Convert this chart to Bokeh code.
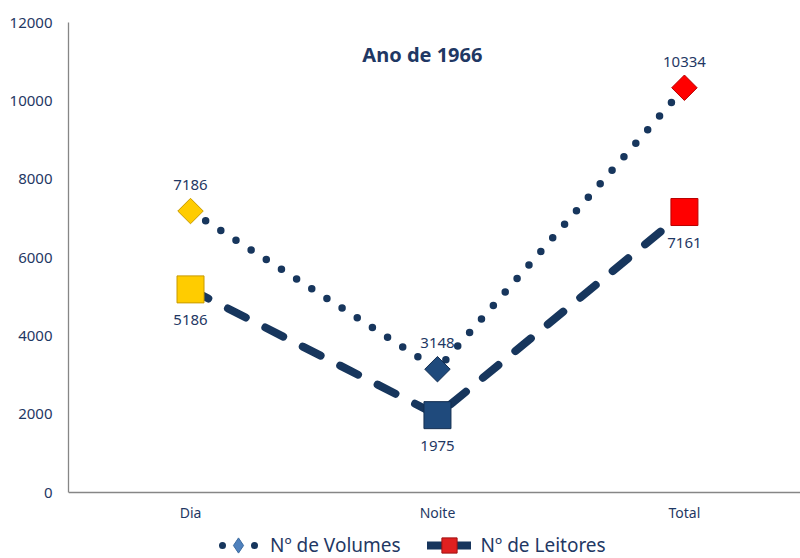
import math
from bokeh.plotting import figure
from bokeh.models import FixedTicker, Legend, LegendItem, Label, ColumnDataSource
from bokeh.embed import file_html
from bokeh.resources import INLINE

categories = ["Dia", "Noite", "Total"]
volumes = [7186, 3148, 10334]
leitores = [5186, 1975, 7161]
y_ticks = [0, 2000, 4000, 6000, 8000, 10000, 12000]
point_colors = ["#FFCC00", "#1F4A7C", "#FF0000"]
point_edges = ["#C89A00", "#142F52", "#B80000"]
title_text = "Ano de 1966"
series_names = ["N\u00ba de Volumes", "N\u00ba de Leitores"]

NAVY = "#17365D"
TEXT = "#1F3864"
FONT = "Noto Sans"

xs = list(range(len(categories)))
src = ColumnDataSource(dict(
    x=xs,
    vol=volumes,
    lei=leitores,
    vol_txt=[str(v) for v in volumes],
    lei_txt=[str(v) for v in leitores],
    fill=point_colors,
    edge=point_edges,
))

p = figure(width=800, height=558, output_backend="svg", toolbar_location=None,
           x_range=(-0.494, 2.470), y_range=(-1685, 12000),
           min_border_left=68, min_border_right=0, min_border_top=22,
           min_border_bottom=0)
p.outline_line_color = None
p.xgrid.visible = False
p.ygrid.visible = False
p.background_fill_color = "white"
p.border_fill_color = "white"

# axes
p.xaxis.ticker = FixedTicker(ticks=xs)
p.xaxis.major_label_overrides = {i: c for i, c in enumerate(categories)}
p.xaxis.fixed_location = 0
p.yaxis.ticker = FixedTicker(ticks=y_ticks)
p.yaxis.bounds = (0, 12000)
for ax in (p.xaxis[0], p.yaxis[0]):
    ax.axis_line_color = "#868686"
    ax.axis_line_width = 1.3
    ax.major_tick_line_color = None
    ax.minor_tick_line_color = None
    ax.major_tick_out = 0
    ax.major_tick_in = 0
    ax.major_label_text_color = TEXT
    ax.major_label_text_font = FONT
p.yaxis.major_label_text_font_size = "15px"
p.yaxis.major_label_standoff = 16
p.xaxis.major_label_text_font_size = "14px"
p.xaxis.major_label_standoff = 10

# lines
p.line("x", "vol", source=src, line_color=NAVY, line_width=7.5,
       line_dash="0 18", line_cap="round")
p.line("x", "lei", source=src, line_color=NAVY, line_width=8,
       line_dash="20 22", line_cap="round")

# markers
p.scatter("x", "vol", source=src, marker="square", angle=math.pi / 4, size=18,
          fill_color="fill", line_color="edge", line_width=1)
p.scatter("x", "lei", source=src, marker="square", size=27,
          fill_color="fill", line_color="edge", line_width=1)

# data labels
p.text("x", "vol", text="vol_txt", source=src, y_offset=-26,
       text_align="center", text_baseline="middle", text_color=TEXT,
       text_font={"value": FONT}, text_font_size="15px")
p.text("x", "lei", text="lei_txt", source=src, y_offset=31,
       text_align="center", text_baseline="middle", text_color=TEXT,
       text_font={"value": FONT}, text_font_size="15px")

# title
p.add_layout(Label(x=0.939, y=11183, text=title_text, text_align="center",
                   text_baseline="middle", text_color=TEXT, text_font=FONT,
                   text_font_size="20px", text_font_style="bold"))

# legend (legend-only renderers, no visible data)
nan = float("nan")
d1_line = p.line([nan, nan], [nan, nan], line_color=NAVY, line_width=7,
                 line_dash="0 16", line_dash_offset=10, line_cap="round")
d1_mark = p.scatter([nan], [nan], marker="diamond", size=14,
                    fill_color="#4F81BD", line_color="#3A6A9F")
d2_line = p.line([nan, nan], [nan, nan], line_color=NAVY, line_width=8,
                 line_cap="round")
d2_mark = p.scatter([nan], [nan], marker="square", size=15,
                    fill_color="#E02020", line_color="#A01010")
legend = Legend(items=[LegendItem(label=series_names[0], renderers=[d1_line, d1_mark]),
                       LegendItem(label=series_names[1], renderers=[d2_line, d2_mark])],
                orientation="horizontal", location=(148, -6),
                border_line_color=None, background_fill_alpha=0,
                label_text_font=FONT, label_text_font_size="19px",
                label_text_color=TEXT, glyph_width=44, glyph_height=38,
                label_standoff=10, spacing=26, padding=0, margin=0)
p.add_layout(legend, "center")

open("out.html", "w").write(file_html(p, INLINE))
